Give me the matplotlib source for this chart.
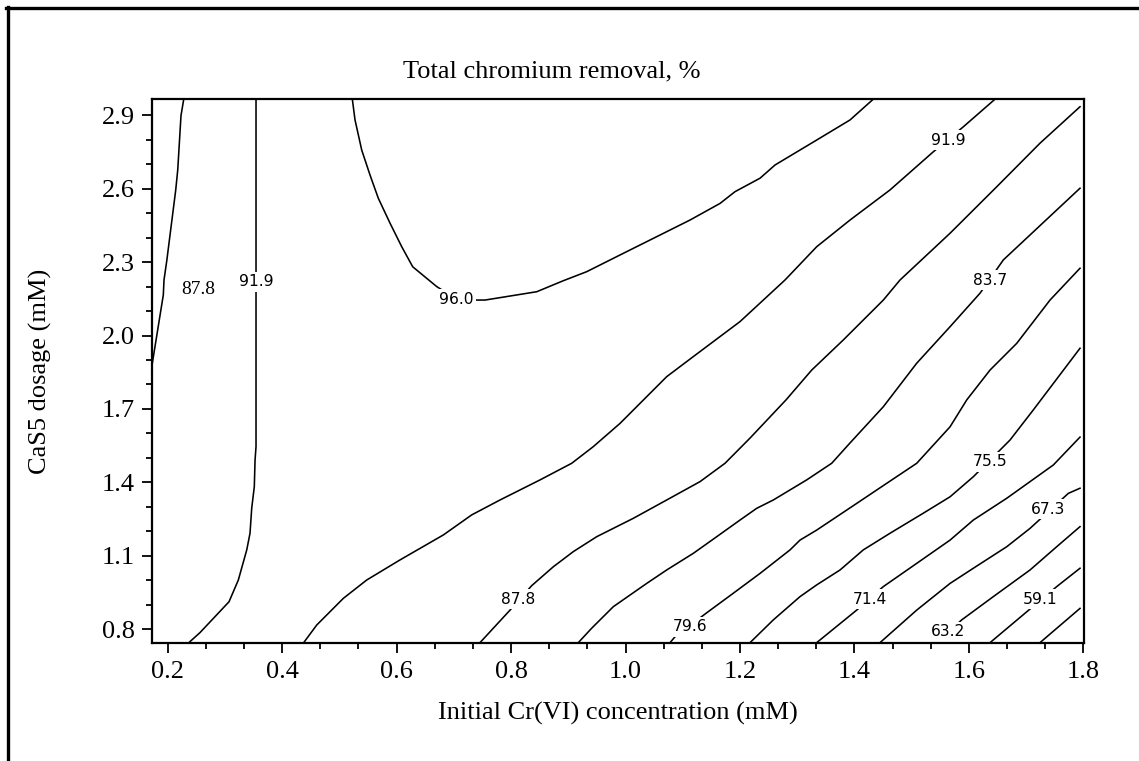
import matplotlib
matplotlib.use("Agg")
import matplotlib.pyplot as plt
from matplotlib.lines import Line2D
from matplotlib.ticker import FixedLocator, FormatStrFormatter

# ---------------- data ----------------
x_ticks = [0.2, 0.4, 0.6, 0.8, 1.0, 1.2, 1.4, 1.6, 1.8]
y_ticks = [0.8, 1.1, 1.4, 1.7, 2.0, 2.3, 2.6, 2.9]
x_minor = [0.2 + i * 0.2 / 3 for i in range(25)]
y_minor = [0.8 + i * 0.1 for i in range(22)]

# contour 87.8 (upper-left corner)
c878a_x = [0.228, 0.2232, 0.2175, 0.214, 0.1983, 0.1935, 0.1923, 0.1731]
c878a_y = [2.966, 2.899, 2.677, 2.595, 2.305, 2.227, 2.166, 1.887]
# contour 91.9 (near-vertical, left)
c919a_x = [0.3543, 0.3543, 0.3526, 0.3513, 0.3468, 0.3438, 0.3381, 0.3234, 0.3071, 0.2564, 0.2360]
c919a_y = [2.966, 1.546, 1.491, 1.382, 1.295, 1.192, 1.124, 1.001, 0.912, 0.786, 0.743]
# contour 96.0 (bowl at the top)
c960_x = [0.5226, 0.5273, 0.5390, 0.5535, 0.5680, 0.5885, 0.6089, 0.6281, 0.6701, 0.7073,
          0.7545, 0.8448, 0.8913, 0.9322, 0.9962, 1.0545, 1.1127, 1.1652, 1.1914, 1.2351,
          1.2613, 1.3341, 1.3923, 1.4330]
c960_y = [2.966, 2.881, 2.758, 2.656, 2.561, 2.459, 2.363, 2.281, 2.200, 2.145,
          2.145, 2.179, 2.224, 2.261, 2.336, 2.404, 2.472, 2.540, 2.588, 2.643,
          2.697, 2.799, 2.881, 2.966]
# contour 91.9 (diagonal)
c919b_x = [0.4370, 0.4604, 0.5069, 0.5478, 0.6059, 0.6816, 0.7312, 0.7807, 0.8506, 0.9060,
           0.9437, 0.9904, 1.0720, 1.1185, 1.2001, 1.2787, 1.3341, 1.3923, 1.4622, 1.5379,
           1.5903, 1.6457]
c919b_y = [0.743, 0.817, 0.926, 1.001, 1.083, 1.185, 1.267, 1.328, 1.410, 1.478,
           1.546, 1.641, 1.832, 1.914, 2.057, 2.227, 2.363, 2.472, 2.595, 2.751,
           2.853, 2.966]
# contour 87.8 (diagonal)
c878b_x = [0.7457, 0.7982, 0.8361, 0.8738, 0.9088, 0.9497, 1.0136, 1.0720, 1.1302, 1.1739,
           1.2176, 1.2805, 1.3254, 1.3806, 1.4505, 1.4797, 1.5671, 1.6487, 1.7243, 1.7942]
c878b_y = [0.745, 0.878, 0.978, 1.055, 1.117, 1.178, 1.253, 1.328, 1.403, 1.478,
           1.581, 1.737, 1.859, 1.982, 2.145, 2.227, 2.418, 2.608, 2.786, 2.935]
# contour 83.7
c837_x = [0.9175, 0.9409, 0.9787, 1.0370, 1.0720, 1.1185, 1.1594, 1.2001, 1.2293, 1.2583,
          1.3166, 1.3603, 1.3923, 1.4505, 1.5089, 1.5671, 1.6195, 1.6602, 1.7942]
c837_y = [0.745, 0.804, 0.892, 0.987, 1.042, 1.110, 1.178, 1.246, 1.294, 1.328,
          1.410, 1.478, 1.561, 1.709, 1.887, 2.036, 2.173, 2.309, 2.602]
# contour 79.6
c796_x = [1.0778, 1.0865, 1.1419, 1.1884, 1.2351, 1.2875, 1.3049, 1.3341, 1.4040, 1.4564,
          1.5089, 1.5671, 1.5963, 1.6370, 1.6836, 1.7418, 1.7942]
c796_y = [0.745, 0.769, 0.867, 0.947, 1.028, 1.124, 1.164, 1.205, 1.314, 1.396,
          1.478, 1.627, 1.737, 1.859, 1.968, 2.145, 2.275]
# contour 75.5
c755_x = [1.2176, 1.2583, 1.3049, 1.3341, 1.3749, 1.4155, 1.4622, 1.5204, 1.5671, 1.6078,
          1.6574, 1.6719, 1.7126, 1.7942]
c755_y = [0.745, 0.838, 0.933, 0.981, 1.042, 1.124, 1.192, 1.274, 1.341, 1.423,
          1.539, 1.573, 1.696, 1.948]
# contour 71.4
c714_x = [1.3341, 1.4040, 1.4505, 1.5089, 1.5671, 1.6078, 1.6662, 1.7476, 1.7942]
c714_y = [0.745, 0.878, 0.974, 1.069, 1.164, 1.246, 1.335, 1.471, 1.585]
# contour 67.3
c673_x = [1.4447, 1.5089, 1.5671, 1.6078, 1.6662, 1.7069, 1.7738, 1.7942]
c673_y = [0.745, 0.878, 0.987, 1.049, 1.137, 1.212, 1.355, 1.376]
# contour 63.2
c632_x = [1.5443, 1.5875, 1.6427, 1.7069, 1.7535, 1.7942]
c632_y = [0.744, 0.838, 0.933, 1.042, 1.137, 1.219]
# contour 59.1
c591_x = [1.6370, 1.7011, 1.7535, 1.7942]
c591_y = [0.745, 0.871, 0.974, 1.049]
# contour 55.0 (unlabelled)
c550_x = [1.7243, 1.7942]
c550_y = [0.745, 0.885]

contours = [(c878a_x, c878a_y), (c919a_x, c919a_y), (c960_x, c960_y),
            (c919b_x, c919b_y), (c878b_x, c878b_y), (c837_x, c837_y),
            (c796_x, c796_y), (c755_x, c755_y), (c714_x, c714_y),
            (c673_x, c673_y), (c632_x, c632_y), (c591_x, c591_y),
            (c550_x, c550_y)]

# inline contour labels
label_text = ["91.9", "96.0", "91.9", "87.8", "83.7", "79.6", "75.5",
              "71.4", "67.3", "63.2", "59.1"]
label_x = [0.3543, 0.705, 1.5641, 0.8127, 1.6370, 1.1127, 1.6370,
           1.4273, 1.7389, 1.5641, 1.7243]
label_y = [2.220, 2.148, 2.799, 0.9233, 2.2269, 0.8101, 1.4844,
           0.9221, 1.2898, 0.7897, 0.9221]
# off-line label on the left (serif in the original)
side_label_text = "87.8"
side_label_x = 0.2535
side_label_y = 2.189

# ---------------- figure ----------------
W, H = 1139, 761
fig = plt.figure(figsize=(W / 100, H / 100), dpi=100)
serif = "Liberation Serif"

ax = fig.add_axes([151.7 / W, (H - 643) / H, (1084.3 - 151.7) / W, (643 - 99.3) / H])

for cx, cy in contours:
    ax.plot(cx, cy, color="black", lw=1.15, solid_joinstyle="round", zorder=2)

for t, lx, ly in zip(label_text, label_x, label_y):
    ax.text(lx, ly, t, ha="center", va="center", fontsize=11.2,
            family="DejaVu Sans", color="black", zorder=2.2,
            bbox=dict(boxstyle="square,pad=0.15", fc="white", ec="none"))
ax.text(side_label_x, side_label_y, side_label_text, ha="center", va="center",
        fontsize=14, family=serif, color="black", zorder=2.2)

ax.set_xlim(0.172, 1.8017)
ax.set_ylim(0.7435, 2.9654)

ax.xaxis.set_major_locator(FixedLocator(x_ticks))
ax.yaxis.set_major_locator(FixedLocator(y_ticks))
ax.xaxis.set_minor_locator(FixedLocator(x_minor))
ax.yaxis.set_minor_locator(FixedLocator(y_minor))
ax.xaxis.set_major_formatter(FormatStrFormatter("%.1f"))
ax.yaxis.set_major_formatter(FormatStrFormatter("%.1f"))

ax.tick_params(which="major", direction="out", length=7.2, width=1.3,
               labelsize=19, pad=5)
ax.tick_params(which="minor", direction="out", length=4.3, width=1.3)
ax.tick_params(axis="x", which="major", pad=6)
for lab in ax.get_xticklabels() + ax.get_yticklabels():
    lab.set_family(serif)
for sp in ax.spines.values():
    sp.set_linewidth(1.6)

fig.text(618 / W, (H - 713) / H, "Initial Cr(VI) concentration (mM)",
         ha="center", va="center", fontsize=19, family=serif)
fig.text(40 / W, (H - 371) / H, "CaS5 dosage (mM)", rotation=90,
         ha="center", va="center", fontsize=19, family=serif)
fig.text(551.5 / W, (H - 71.7) / H, "Total chromium removal, %",
         ha="center", va="center", fontsize=19, family=serif)

# outer frame (cropped at the right and bottom in the original)
fig.add_artist(Line2D([6 / W, 1.0], [(H - 8) / H, (H - 8) / H], lw=2.4, color="black"))
fig.add_artist(Line2D([7.5 / W, 7.5 / W], [0.0, (H - 7) / H], lw=2.4, color="black"))

fig.savefig("out.png", dpi=100)
